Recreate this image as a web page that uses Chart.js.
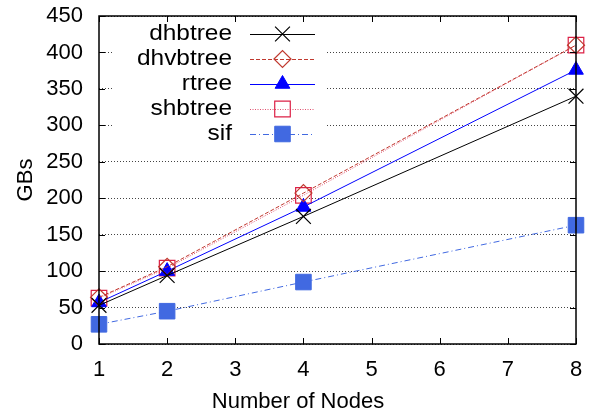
<!DOCTYPE html>
<html>
<head>
<meta charset="utf-8">
<script src="https://cdn.jsdelivr.net/npm/chart.js@4/dist/chart.umd.min.js"></script>
<style>
  html, body { margin: 0; padding: 0; background: #fff; }
  #c { display: block; }
</style>
</head>
<body>
<canvas id="c" width="592" height="419"></canvas>
<script>
// Storage used (GBs) against cluster size
const nodes    = [1, 2, 4, 8];
const dhbtree  = [53, 94, 175, 340];
const dhvbtree = [64, 106, 207, 410];
const rtree    = [57, 100, 188, 376];
const shbtree  = [63, 104, 204, 410];
const sif      = [27, 45, 85, 163];

const xTickValues = [1, 2, 3, 4, 5, 6, 7, 8];
const yTickValues = [0, 50, 100, 150, 200, 250, 300, 350, 400, 450];
const xTitle = 'Number of Nodes';
const yTitle = 'GBs';

const FONT = 'Liberation Sans, Arial, Helvetica, sans-serif';
const FS = 22;

function pts(ys) { return nodes.map((x, i) => ({ x: x, y: ys[i] })); }

const datasets = [
  { label: 'dhbtree', data: pts(dhbtree), borderColor: '#000000', backgroundColor: 'rgba(0,0,0,0)',
    borderWidth: 1, borderDash: [], pointStyle: 'crossRot', pointRadius: 10.5,
    pointBorderColor: '#000000', pointBorderWidth: 1.2 },
  { label: 'dhvbtree', data: pts(dhvbtree), borderColor: '#c0392f', backgroundColor: 'rgba(0,0,0,0)',
    borderWidth: 1, borderDash: [4, 2], pointStyle: 'rectRot', pointRadius: 8.5,
    pointBorderColor: '#c0392f', pointBackgroundColor: 'rgba(0,0,0,0)', pointBorderWidth: 1.2 },
  { label: 'rtree', data: pts(rtree), borderColor: '#0000ff', backgroundColor: '#0000ff',
    borderWidth: 1, borderDash: [], pointStyle: 'triangle', pointRadius: 8.5,
    pointBorderColor: '#0000ff', pointBackgroundColor: '#0000ff', pointBorderWidth: 1 },
  { label: 'shbtree', data: pts(shbtree), borderColor: '#e0506e', backgroundColor: 'rgba(0,0,0,0)',
    borderWidth: 1, borderDash: [1, 1.5], pointStyle: 'rect', pointRadius: 11,
    pointBorderColor: '#dc2046', pointBackgroundColor: 'rgba(0,0,0,0)', pointBorderWidth: 1.2 },
  { label: 'sif', data: pts(sif), borderColor: '#4169e1', backgroundColor: '#4169e1',
    borderWidth: 1, borderDash: [6, 3, 1, 3], pointStyle: 'rect', pointRadius: 11,
    pointBorderColor: '#4169e1', pointBackgroundColor: '#4169e1', pointBorderWidth: 1 }
];
datasets.forEach(d => { d.clip = false; d.tension = 0; d.pointHoverRadius = d.pointRadius; });

// Plot frame, mirrored inward ticks, x caption and the in-plot key
const framePlugin = {
  id: 'frame',
  beforeDatasetsDraw(chart) {
    const ctx = chart.ctx;
    // white panel behind the key
    ctx.save();
    ctx.fillStyle = '#ffffff';
    ctx.fillRect(114, 20, 212, 126);
    ctx.restore();
  },
  afterDraw(chart) {
    const ctx = chart.ctx;
    const a = chart.chartArea;
    const xs = chart.scales.x, ys = chart.scales.y;
    const TL = 6;
    ctx.save();
    ctx.strokeStyle = '#000';
    ctx.lineWidth = 1;
    ctx.beginPath();
    xTickValues.forEach(v => {
      const px = Math.round(xs.getPixelForValue(v)) + 0.5;
      ctx.moveTo(px, a.bottom); ctx.lineTo(px, a.bottom - TL);
      ctx.moveTo(px, a.top); ctx.lineTo(px, a.top + TL);
    });
    yTickValues.forEach(v => {
      const py = Math.round(ys.getPixelForValue(v)) + 0.5;
      ctx.moveTo(a.left, py); ctx.lineTo(a.left + TL, py);
      ctx.moveTo(a.right, py); ctx.lineTo(a.right - TL, py);
    });
    ctx.stroke();
    ctx.lineWidth = 1.5;
    ctx.strokeRect(a.left, a.top, a.right - a.left, a.bottom - a.top);

    // x caption, centred on the canvas
    ctx.font = FS + 'px ' + FONT;
    ctx.fillStyle = '#000';
    ctx.textAlign = 'center';
    ctx.textBaseline = 'middle';
    ctx.fillText(xTitle, chart.width / 2 + 2, 402);

    // key
    const textRight = 232, lineL = 250, lineR = 315, mark = 282.5;
    const rows = [34, 59, 84, 109, 134];
    ctx.textAlign = 'right';
    chart.data.datasets.forEach((d, i) => {
      const y = rows[i];
      ctx.save();
      ctx.fillStyle = '#000';
      ctx.translate(textRight, y);
      ctx.scale(1.11, 1);
      ctx.fillText(d.label, 0, 0);
      ctx.restore();
      ctx.save();
      ctx.strokeStyle = d.borderColor;
      ctx.lineWidth = d.borderWidth;
      ctx.setLineDash(d.borderDash || []);
      ctx.beginPath();
      ctx.moveTo(lineL, y + 0.5); ctx.lineTo(lineR, y + 0.5);
      ctx.stroke();
      ctx.restore();
      ctx.save();
      ctx.setLineDash([]);
      ctx.strokeStyle = d.pointBorderColor;
      ctx.fillStyle = d.pointBackgroundColor || 'rgba(0,0,0,0)';
      ctx.lineWidth = d.pointBorderWidth;
      Chart.helpers.drawPoint(ctx, {
        pointStyle: d.pointStyle, radius: d.pointRadius, rotation: 0,
        borderWidth: d.pointBorderWidth
      }, mark, y);
      ctx.restore();
    });
    ctx.restore();
  }
};

new Chart(document.getElementById('c'), {
  type: 'line',
  data: { datasets: datasets },
  options: {
    responsive: false,
    animation: false,
    devicePixelRatio: 1,
    layout: { padding: { left: 0, right: 16, top: 16, bottom: 0 } },
    plugins: { legend: { display: false }, tooltip: { enabled: false } },
    scales: {
      x: {
        type: 'linear', min: 1, max: 8,
        afterFit(s) { s.height = 75; s.paddingLeft = 0; s.paddingRight = 0; },
        afterBuildTicks(s) { s.ticks = xTickValues.map(v => ({ value: v })); },
        ticks: { padding: 13, color: '#000', font: { family: FONT, size: FS } },
        grid: { display: false, drawTicks: false },
        border: { display: false }
      },
      y: {
        type: 'linear', min: 0, max: 450,
        afterFit(s) { s.width = 99; s.paddingTop = 0; s.paddingBottom = 0; },
        afterBuildTicks(s) { s.ticks = yTickValues.map(v => ({ value: v })); },
        ticks: { padding: 16, color: '#000', font: { family: FONT, size: FS } },
        grid: { color: '#444', lineWidth: 1, drawTicks: false },
        border: { display: false, dash: [1, 2] },
        title: { display: true, text: yTitle, color: '#000',
                 font: { family: FONT, size: FS }, padding: { top: 13, bottom: 0 } }
      }
    }
  },
  plugins: [framePlugin]
});
</script>
</body>
</html>
